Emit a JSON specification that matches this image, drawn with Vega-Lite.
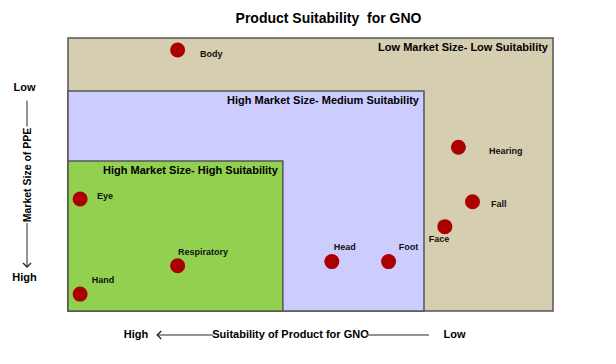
{
  "$schema": "https://vega.github.io/schema/vega-lite/v6.json",
  "width": 485,
  "height": 273,
  "autosize": {"type": "none"},
  "padding": {"left": 68, "top": 38, "right": 63, "bottom": 53},
  "background": "white",
  "config": {"view": {"stroke": null}, "font": "Liberation Sans"},
  "title": {"text": "Product Suitability\u00a0 for GNO", "fontSize": 14, "fontWeight": "bold", "font": "Liberation Sans", "anchor": "middle", "dx": 18, "offset": 11, "color": "#000"},
  "datasets": {
    "zones": [
      {"zone": "low", "x": 0, "x2": 100, "y": 0, "y2": 100, "label": "Low Market Size- Low Suitability"},
      {"zone": "medium", "x": 0, "x2": 73.4, "y": 0, "y2": 80.6, "label": "High Market Size- Medium Suitability"},
      {"zone": "high", "x": 0, "x2": 44.3, "y": 0, "y2": 54.9, "label": "High Market Size- High Suitability"}
    ],
    "items": [
      {"name": "Body", "x": 22.6, "y": 95.6, "lx": 27.2, "ly": 94.1},
      {"name": "Eye", "x": 2.5, "y": 41.0, "lx": 6.0, "ly": 42.1},
      {"name": "Hand", "x": 2.5, "y": 6.2, "lx": 4.9, "ly": 11.4},
      {"name": "Respiratory", "x": 22.6, "y": 16.6, "lx": 22.7, "ly": 21.6},
      {"name": "Head", "x": 54.4, "y": 18.1, "lx": 54.8, "ly": 23.4},
      {"name": "Foot", "x": 66.1, "y": 18.1, "lx": 68.2, "ly": 23.4},
      {"name": "Hearing", "x": 80.5, "y": 60.0, "lx": 86.8, "ly": 58.6},
      {"name": "Fall", "x": 83.4, "y": 40.0, "lx": 87.2, "ly": 39.2},
      {"name": "Face", "x": 77.7, "y": 30.9, "lx": 74.4, "ly": 26.4}
    ],
    "guides": [
      {"x": -8.45, "x2": -8.45, "y": 77.0, "y2": 67.6},
      {"x": -8.45, "x2": -8.45, "y": 32.2, "y2": 16.1},
      {"x": 18.4, "x2": 29.9, "y": -8.8, "y2": -8.8},
      {"x": 61.6, "x2": 74.4, "y": -8.8, "y2": -8.8}
    ],
    "heads": [
      {"dir": "down", "x": -8.45, "y": 16.1},
      {"dir": "left", "x": 18.4, "y": -8.8}
    ]
  },
  "layer": [
    {
      "data": {"name": "zones"},
      "mark": {"type": "rect", "stroke": "#555555", "strokeWidth": 1.5},
      "encoding": {
        "x": {"field": "x", "type": "quantitative", "scale": {"domain": [0, 100], "nice": false, "zero": false},
          "axis": {"title": "Suitability of Product for GNO", "values": [13.9, 79.6], "labelExpr": "datum.value < 50 ? 'High' : 'Low'", "domain": false, "ticks": false, "tickSize": 0, "grid": false, "labelPadding": 23, "labelBaseline": "middle", "labelAlign": "center", "labelFontSize": 11, "labelFontWeight": "bold", "labelColor": "#000", "labelFont": "Liberation Sans", "labelFlush": false, "labelOverlap": false, "titleFont": "Liberation Sans", "titleFontSize": 11, "titleFontWeight": "bold", "titleColor": "#000", "titleX": 222, "titleY": 23, "titleBaseline": "middle", "titleAlign": "center", "titleAnchor": null}},
        "x2": {"field": "x2"},
        "y": {"field": "y", "type": "quantitative", "scale": {"domain": [0, 100], "nice": false, "zero": false},
          "axis": {"title": "Market Size of PPE", "values": [12.45, 82.05], "labelExpr": "datum.value > 50 ? 'Low' : 'High'", "domain": false, "ticks": false, "tickSize": 0, "grid": false, "labelPadding": 44, "labelBaseline": "middle", "labelAlign": "center", "labelFontSize": 11, "labelFontWeight": "bold", "labelColor": "#000", "labelFont": "Liberation Sans", "labelFlush": false, "labelOverlap": false, "titleFont": "Liberation Sans", "titleFontSize": 10.5, "titleFontWeight": "bold", "titleColor": "#000", "titleX": -41, "titleY": 136.5, "titleAngle": 270, "titleBaseline": "middle", "titleAlign": "center", "titleAnchor": null}},
        "y2": {"field": "y2"},
        "fill": {"field": "zone", "type": "nominal", "scale": {"domain": ["low", "medium", "high"], "range": ["#d5ceb0", "#ccccff", "#92d050"]}, "legend": null}
      }
    },
    {
      "data": {"name": "zones"},
      "mark": {"type": "text", "align": "right", "baseline": "middle", "dx": -5, "dy": 10, "fontSize": 11, "fontWeight": "bold", "color": "#000"},
      "encoding": {
        "x": {"field": "x2", "type": "quantitative"},
        "y": {"field": "y2", "type": "quantitative"},
        "text": {"field": "label"}
      }
    },
    {
      "data": {"name": "items"},
      "mark": {"type": "circle", "size": 225, "color": "#aa0000", "opacity": 1},
      "encoding": {
        "x": {"field": "x", "type": "quantitative"},
        "y": {"field": "y", "type": "quantitative"}
      }
    },
    {
      "data": {"name": "items"},
      "mark": {"type": "text", "align": "left", "baseline": "middle", "fontSize": 9, "fontWeight": "bold", "color": "#111"},
      "encoding": {
        "x": {"field": "lx", "type": "quantitative"},
        "y": {"field": "ly", "type": "quantitative"},
        "text": {"field": "name"}
      }
    },
    {
      "data": {"name": "guides"},
      "mark": {"type": "rule", "color": "#707070", "strokeWidth": 1.5},
      "encoding": {
        "x": {"field": "x", "type": "quantitative"},
        "x2": {"field": "x2"},
        "y": {"field": "y", "type": "quantitative"},
        "y2": {"field": "y2"}
      }
    },
    {
      "data": {"name": "heads"},
      "mark": {"type": "point", "filled": false, "size": 64, "stroke": "#222222", "strokeWidth": 1.3, "opacity": 1},
      "encoding": {
        "x": {"field": "x", "type": "quantitative"},
        "y": {"field": "y", "type": "quantitative"},
        "shape": {"field": "dir", "type": "nominal", "scale": {"domain": ["down", "left"], "range": ["M-1,-1L0,0L1,-1", "M1,-1L0,0L1,1"]}, "legend": null}
      }
    }
  ]
}
